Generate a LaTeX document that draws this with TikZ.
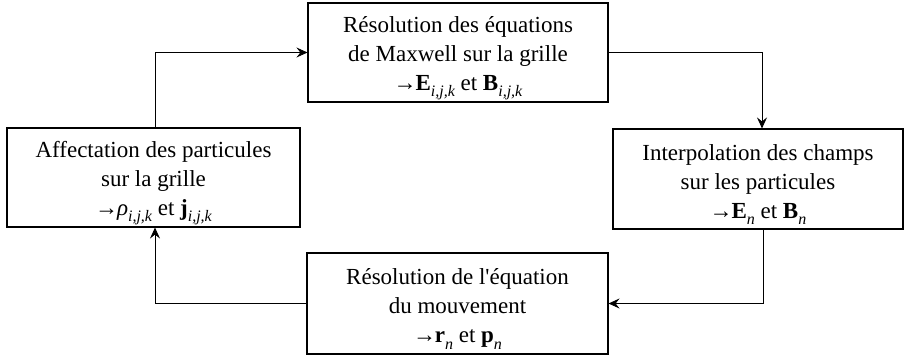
\documentclass[tikz,border=0pt]{standalone}
\usepackage{fontspec}
\setmainfont{Liberation Serif}
\usetikzlibrary{arrows.meta}
\newcommand{\vb}[1]{\textbf{#1}}
\newcommand{\sbs}[1]{\raisebox{-0.28em}{\fontsize{16}{16}\selectfont\itshape #1}}
\newcommand{\arr}{\textbf{→}\kern-0.05em}
\newcommand{\tstrut}{\rule{0pt}{27pt}}
\begin{document}
\begin{tikzpicture}[x=1pt,y=-1pt,
  box/.style={draw, line width=1.1pt, align=center, inner sep=0pt,
    font=\fontsize{23}{29}\selectfont},
  conn/.style={line width=0.9pt, -{Stealth[length=11pt,width=10pt,inset=4pt]}}]
\useasboundingbox (0,0) rectangle (905,356);
\node[box, minimum width=300pt, minimum height=99pt] (maxw) at (458,52.5)
  {\tstrut Résolution des équations\\de Maxwell sur la grille\\\arr\vb{E}\sbs{i,j,k} et \vb{B}\sbs{i,j,k}};
\node[box, minimum width=293pt, minimum height=99pt] (affe) at (153.5,177.5)
  {\tstrut Affectation des particules\\sur la grille\\\arr\textit{ρ}\sbs{i,j,k} et \vb{j}\sbs{i,j,k}};
\node[box, minimum width=290pt, minimum height=100pt] (inte) at (758,179)
  {\tstrut Interpolation des champs\\sur les particules\\\arr\vb{E}\sbs{n} et \vb{B}\sbs{n}};
\node[box, minimum width=301pt, minimum height=101pt] (mouv) at (457.5,303.5)
  {\tstrut Résolution de l\textquotesingle équation\\du mouvement\\\arr\vb{r}\sbs{n} et \vb{p}\sbs{n}};
\coordinate (c1) at (155,52.5);
\coordinate (c2) at (762,52.5);
\coordinate (c3) at (763,303.5);
\coordinate (c4) at (155,303.5);
\draw[conn] (c1 |- affe.north) -- (c1) -- (maxw.west);
\draw[conn] (maxw.east) -- (c2) -- (c2 |- inte.north);
\draw[conn] (c3 |- inte.south) -- (c3) -- (mouv.east);
\draw[conn] (mouv.west) -- (c4) -- (c4 |- affe.south);
\end{tikzpicture}
\end{document}
